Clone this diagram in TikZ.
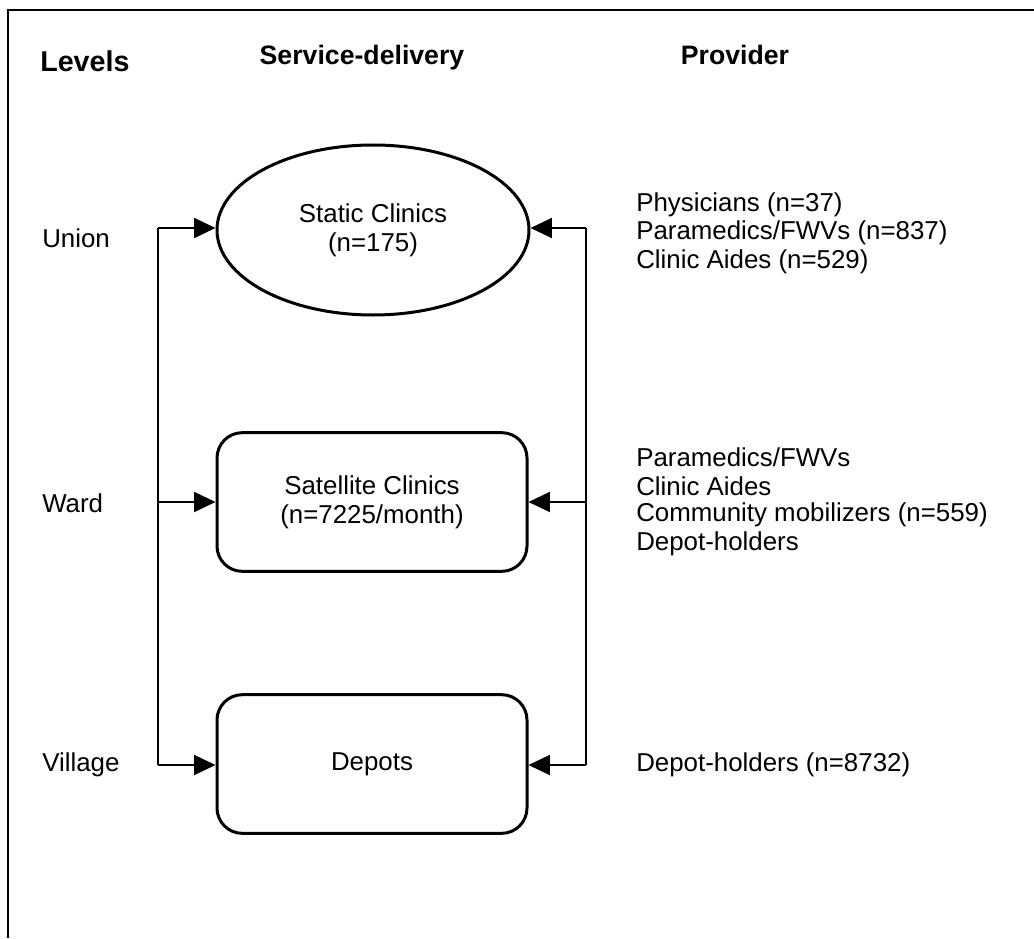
\documentclass[tikz,border=0pt]{standalone}
\usepackage{fontspec}
\setmainfont{Liberation Sans}
\usetikzlibrary{arrows.meta,shapes.geometric}
\begin{document}
\begin{tikzpicture}[x=0.75pt,y=-0.75pt,
  body/.style={font=\fontsize{19.4}{22}\selectfont, inner sep=0pt},
  header/.style={font=\fontsize{20}{23}\selectfont\bfseries, inner sep=0pt},
  listtext/.style={body, anchor=west, align=left},
  boxshape/.style={draw, line width=2.25pt, rounded corners=19pt, minimum width=232.5pt, minimum height=104pt, body, align=center},
  conn/.style={line width=1.1pt},
  arr/.style={conn, -{Triangle[length=16pt,width=15pt]}}
]
\useasboundingbox (0,0) rectangle (1034,938);
% frame (top and left sides visible)
\draw[line width=1.4pt] (8,938) -- (8,10) -- (1034,10);

% headers
\node[header, anchor=base west, font=\fontsize{21.5}{24}\selectfont\bfseries] (hlev) at (40,72) {Levels};
\node[header, anchor=base] (hsd) at (362,65) {Service-delivery};
\node[header, anchor=base] (hpr) at (735,65) {Provider};

% levels
\node[body, anchor=west] (union) at (42,238) {Union};
\node[body, anchor=west] (ward) at (42,503) {Ward};
\node[body, anchor=west] (village) at (42,765) {Village};

% service-delivery shapes
\node[ellipse, draw, line width=2.25pt, minimum width=234pt, minimum height=127.5pt, inner sep=0pt, body, align=center] (static) at (373,230) {Static Clinics\\(n=175)};
\node[boxshape] (sat) at (372,502) {Satellite Clinics\\(n=7225/month)};
\node[boxshape] (dep) at (372,764) {Depots};

% connector corners
\coordinate (L1) at (158,228);
\coordinate (L2) at (158,502);
\coordinate (L3) at (158,765);
\coordinate (R1) at (586,228);
\coordinate (R2) at (586,502);
\coordinate (R3) at (586,765);

\draw[conn] (L1) -- (L3);
\draw[conn] (R1) -- (R3);
\draw[arr] (L1) -- (static.west |- L1);
\draw[arr] (L2) -- (sat.west |- L2);
\draw[arr] (L3) -- (dep.west |- L3);
\draw[arr] (R1) -- (static.east |- R1);
\draw[arr] (R2) -- (sat.east |- R2);
\draw[arr] (R3) -- (dep.east |- R3);

% providers
\node[listtext] (p1) at (636,205) {Physicians (n=37)};
\node[listtext] (p2) at (636,233) {Paramedics/FWVs (n=837)};
\node[listtext] (p3) at (636,262) {Clinic Aides (n=529)};
\node[listtext] (p4) at (636,457) {Paramedics/FWVs};
\node[listtext] (p5) at (636,486) {Clinic Aides};
\node[listtext] (p6) at (636,515) {Community mobilizers (n=559)};
\node[listtext] (p7) at (636,544) {Depot-holders};
\node[listtext] (p8) at (636,765) {Depot-holders (n=8732)};
\end{tikzpicture}
\end{document}
